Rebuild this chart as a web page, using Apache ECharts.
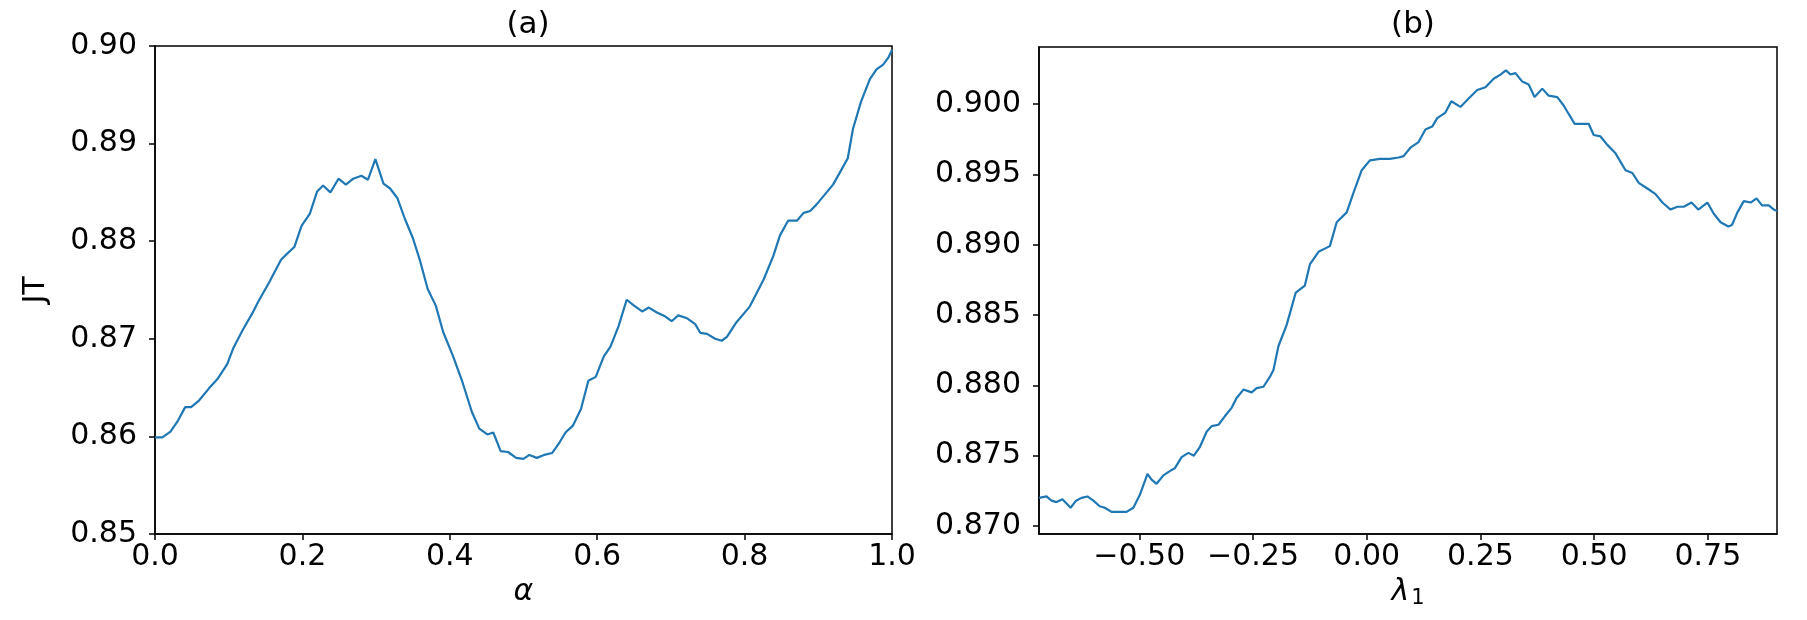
<!DOCTYPE html>
<html>
<head>
<meta charset="utf-8">
<title>JT vs alpha / lambda1</title>
<script src="https://cdn.jsdelivr.net/npm/echarts@6/dist/echarts.min.js"></script>
<style>
    html, body { margin: 0; padding: 0; background: #fff; }
    #main { width: 1807px; height: 620px; }
</style>
</head>
<body>
<div id="main"></div>
<script>
// (a) JT 随 alpha 变化
var alphaX = [0.000, 0.010, 0.021, 0.031, 0.041, 0.049, 0.060, 0.073, 0.085, 0.098,
    0.106, 0.119, 0.132, 0.140, 0.155, 0.171, 0.179, 0.189, 0.199, 0.210,
    0.220, 0.228, 0.238, 0.249, 0.259, 0.269, 0.280, 0.289, 0.299, 0.310,
    0.319, 0.329, 0.339, 0.350, 0.360, 0.370, 0.381, 0.391, 0.404, 0.417,
    0.430, 0.440, 0.451, 0.459, 0.469, 0.479, 0.490, 0.500, 0.508, 0.518,
    0.528, 0.539, 0.549, 0.557, 0.567, 0.578, 0.588, 0.598, 0.609, 0.618,
    0.629, 0.640, 0.650, 0.661, 0.670, 0.681, 0.692, 0.701, 0.710, 0.722,
    0.733, 0.740, 0.749, 0.760, 0.769, 0.776, 0.789, 0.807, 0.826, 0.839,
    0.848, 0.859, 0.871, 0.880, 0.889, 0.898, 0.909, 0.920, 0.929, 0.940,
    0.947, 0.958, 0.970, 0.979, 0.988, 0.995, 1.000];
var alphaJT = [0.8599, 0.8599, 0.8605, 0.8616, 0.8630, 0.8630, 0.8637, 0.8649, 0.8659, 0.8674,
    0.8690, 0.8709, 0.8726, 0.8738, 0.8758, 0.8781, 0.8787, 0.8794, 0.8816, 0.8828,
    0.8851, 0.8857, 0.8850, 0.8864, 0.8858, 0.8864, 0.8867, 0.8863, 0.8884, 0.8859,
    0.8854, 0.8844, 0.8823, 0.8803, 0.8779, 0.8751, 0.8734, 0.8707, 0.8683, 0.8656,
    0.8625, 0.8608, 0.8602, 0.8604, 0.8585, 0.8584, 0.8578, 0.8577, 0.8581, 0.8578,
    0.8581, 0.8583, 0.8594, 0.8604, 0.8611, 0.8628, 0.8657, 0.8661, 0.8682, 0.8692,
    0.8713, 0.8740, 0.8734, 0.8728, 0.8732, 0.8727, 0.8723, 0.8718, 0.8724, 0.8721,
    0.8715, 0.8706, 0.8705, 0.8700, 0.8698, 0.8702, 0.8717, 0.8733, 0.8761, 0.8785,
    0.8806, 0.8821, 0.8821, 0.8829, 0.8831, 0.8838, 0.8848, 0.8858, 0.8870, 0.8885,
    0.8915, 0.8943, 0.8966, 0.8976, 0.8981, 0.8988, 0.8996];

// (b) JT 随 lambda_1 变化
var lambdaX = [-0.720, -0.704, -0.693, -0.682, -0.669, -0.660, -0.651, -0.639, -0.627, -0.614,
    -0.601, -0.587, -0.576, -0.561, -0.543, -0.528, -0.513, -0.499, -0.482, -0.473,
    -0.462, -0.447, -0.433, -0.422, -0.407, -0.392, -0.380, -0.367, -0.352, -0.341,
    -0.326, -0.312, -0.297, -0.286, -0.271, -0.253, -0.242, -0.227, -0.213, -0.205,
    -0.194, -0.176, -0.156, -0.136, -0.125, -0.106, -0.081, -0.066, -0.044, -0.029,
    -0.011, 0.007, 0.029, 0.051, 0.070, 0.081, 0.096, 0.114, 0.129, 0.144,
    0.155, 0.173, 0.186, 0.206, 0.224, 0.243, 0.261, 0.279, 0.294, 0.306,
    0.316, 0.327, 0.342, 0.356, 0.369, 0.386, 0.400, 0.419, 0.433, 0.444,
    0.457, 0.474, 0.488, 0.499, 0.514, 0.529, 0.547, 0.569, 0.584, 0.598,
    0.617, 0.635, 0.650, 0.668, 0.683, 0.697, 0.714, 0.729, 0.749, 0.763,
    0.778, 0.795, 0.803, 0.815, 0.829, 0.844, 0.857, 0.869, 0.884, 0.895,
    0.902];
var lambdaJT = [0.8720, 0.8721, 0.8718, 0.8717, 0.8719, 0.8716, 0.8713, 0.8718, 0.8720, 0.8721,
    0.8718, 0.8714, 0.8713, 0.8710, 0.8710, 0.8710, 0.8713, 0.8722, 0.8737, 0.8733,
    0.8730, 0.8736, 0.8739, 0.8741, 0.8749, 0.8752, 0.8750, 0.8756, 0.8767, 0.8771,
    0.8772, 0.8778, 0.8784, 0.8791, 0.8797, 0.8795, 0.8798, 0.8799, 0.8806, 0.8811,
    0.8828, 0.8843, 0.8866, 0.8871, 0.8886, 0.8895, 0.8899, 0.8916, 0.8923, 0.8937,
    0.8953, 0.8960, 0.8961, 0.8961, 0.8962, 0.8963, 0.8969, 0.8973, 0.8982, 0.8984,
    0.8990, 0.8994, 0.9002, 0.8998, 0.9004, 0.9010, 0.9012, 0.9018, 0.9021, 0.9024,
    0.9021, 0.9022, 0.9016, 0.9014, 0.9005, 0.9011, 0.9006, 0.9005, 0.8999, 0.8993,
    0.8986, 0.8986, 0.8986, 0.8978, 0.8977, 0.8971, 0.8965, 0.8953, 0.8951, 0.8944,
    0.8940, 0.8936, 0.8930, 0.8925, 0.8927, 0.8927, 0.8930, 0.8925, 0.8930, 0.8922,
    0.8916, 0.8913, 0.8914, 0.8923, 0.8931, 0.8930, 0.8933, 0.8928, 0.8928, 0.8925,
    0.8924];

// 刻度
var aXTicks = [0.0, 0.2, 0.4, 0.6, 0.8, 1.0];
var aYTicks = [0.85, 0.86, 0.87, 0.88, 0.89, 0.90];
var bXTicks = [-0.50, -0.25, 0.00, 0.25, 0.50, 0.75];
var bYTicks = [0.870, 0.875, 0.880, 0.885, 0.890, 0.895, 0.900];

var FONT = 'DejaVu Sans';
var BLACK = '#000';

function zip(xs, ys) {
    return xs.map(function (x, i) { return [x, ys[i]]; });
}

// matplotlib 风格的负号
function fmt(digits) {
    return function (v) {
        return v.toFixed(digits).replace('-', '\u2212');
    };
}

function valueAxis(gridIndex, min, max, ticks, digits, margin, extra) {
    var ax = {
        type: 'value',
        gridIndex: gridIndex,
        min: min,
        max: max,
        splitLine: { show: false },
        axisLine: { show: true, onZero: false, lineStyle: { color: BLACK, width: 1.5 } },
        axisTick: { show: true, length: 6, customValues: ticks, lineStyle: { color: BLACK, width: 1.5 } },
        axisLabel: { customValues: ticks, formatter: fmt(digits), margin: margin,
                     color: BLACK, fontFamily: FONT, fontSize: 30 }
    };
    for (var k in extra) { ax[k] = extra[k]; }
    return ax;
}

var myChart = echarts.init(document.getElementById('main'), null, { renderer: 'canvas' });

var option = {
    backgroundColor: '#fff',
    animation: false,
    title: [
        { text: '(a)', left: 523, top: 4, textAlign: 'center',
          textStyle: { fontFamily: FONT, fontSize: 31, fontWeight: 'normal', color: BLACK } },
        { text: '(b)', left: 1408, top: 4, textAlign: 'center',
          textStyle: { fontFamily: FONT, fontSize: 31, fontWeight: 'normal', color: BLACK } }
    ],
    grid: [
        { left: 155, top: 46, width: 737, height: 488, show: true, borderColor: BLACK, borderWidth: 1.5 },
        { left: 1039, top: 47, width: 738, height: 487, show: true, borderColor: BLACK, borderWidth: 1.5 }
    ],
    xAxis: [
        valueAxis(0, 0, 1, aXTicks, 1, 8, {
            name: '\u03b1', nameLocation: 'middle', nameGap: 32,
            nameTextStyle: { fontFamily: FONT, fontStyle: 'italic', fontSize: 30, color: BLACK }
        }),
        valueAxis(1, -0.7205, 0.902, bXTicks, 2, 8, {
            name: '{l|\u03bb}{s|1}', nameLocation: 'middle', nameGap: 33,
            nameTextStyle: {
                color: BLACK,
                rich: {
                    l: { fontFamily: FONT, fontStyle: 'italic', fontSize: 30, color: BLACK },
                    s: { fontFamily: FONT, fontSize: 21, color: BLACK, padding: [14, 0, 0, 2] }
                }
            }
        })
    ],
    yAxis: [
        valueAxis(0, 0.85, 0.90, aYTicks, 2, 18, {
            name: 'JT', nameLocation: 'middle', nameGap: 104,
            nameTextStyle: { fontFamily: FONT, fontSize: 30, color: BLACK }
        }),
        valueAxis(1, 0.86943, 0.90406, bYTicks, 3, 18, {})
    ],
    series: [
        {
            type: 'line', xAxisIndex: 0, yAxisIndex: 0,
            data: zip(alphaX, alphaJT),
            showSymbol: false, symbol: 'none',
            lineStyle: { color: '#1f77b4', width: 2.2 }
        },
        {
            type: 'line', xAxisIndex: 1, yAxisIndex: 1,
            data: zip(lambdaX, lambdaJT),
            showSymbol: false, symbol: 'none',
            lineStyle: { color: '#1f77b4', width: 2.2 }
        }
    ]
};

myChart.setOption(option);
</script>
</body>
</html>
